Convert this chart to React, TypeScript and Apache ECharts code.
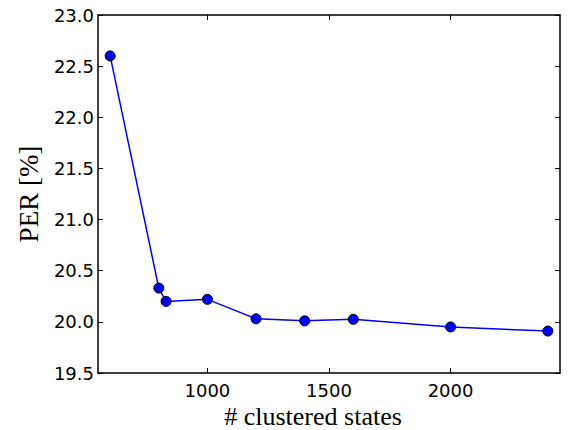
import React, { useEffect, useRef } from "react";
import * as echarts from "echarts";

const clusteredStates = [600, 800, 830, 1000, 1200, 1400, 1600, 2000, 2400];
const perValues = [22.6, 20.33, 20.2, 20.22, 20.03, 20.01, 20.025, 19.95, 19.91];
const xTicks = [1000, 1500, 2000];
const yTicks = [19.5, 20.0, 20.5, 21.0, 21.5, 22.0, 22.5, 23.0];

export default function App() {
  const ref = useRef<HTMLDivElement>(null);
  useEffect(() => {
    if (!ref.current) return;
    const chart = echarts.init(ref.current, null, { renderer: "svg" });
    const tickFont = { fontFamily: "DejaVu Sans", fontSize: 18, color: "#000" };
    const nameFont = { fontFamily: "Liberation Serif", fontSize: 27, color: "#000" };
    const line = { show: true, onZero: false, lineStyle: { color: "#000", width: 1.5 } };
    const tick = { show: true, inside: true, length: 5, lineStyle: { color: "#000", width: 1 } };
    chart.setOption({
      animation: false,
      grid: {
        left: 98,
        top: 15,
        right: 8,
        bottom: 57,
        containLabel: false,
        outerBoundsMode: "none",
      },
      xAxis: [
        {
          type: "value",
          min: 550,
          max: 2450,
          position: "bottom",
          name: "# clustered states",
          nameLocation: "middle",
          nameGap: 24,
          nameTextStyle: { ...nameFont, fontSize: 26, lineHeight: 26, padding: [0, 32, 0, 0] },
          axisLine: line,
          axisTick: { ...tick, customValues: xTicks },
          axisLabel: {
            ...tickFont,
            margin: 8,
            customValues: xTicks,
            formatter: (v: number) => String(v),
          },
          splitLine: { show: false },
        },
        {
          type: "value",
          min: 550,
          max: 2450,
          position: "top",
          axisLine: line,
          axisTick: { ...tick, customValues: xTicks },
          axisLabel: { show: false, customValues: xTicks },
          splitLine: { show: false },
        },
      ],
      yAxis: [
        {
          type: "value",
          min: 19.5,
          max: 23,
          position: "left",
          name: "PER [%]",
          nameLocation: "middle",
          nameGap: 56,
          nameRotate: 90,
          nameTextStyle: nameFont,
          axisLine: line,
          axisTick: { ...tick, customValues: yTicks },
          axisLabel: {
            ...tickFont,
            margin: 4,
            customValues: yTicks,
            formatter: (v: number) => v.toFixed(1),
          },
          splitLine: { show: false },
        },
        {
          type: "value",
          min: 19.5,
          max: 23,
          position: "right",
          axisLine: line,
          axisTick: { ...tick, customValues: yTicks },
          axisLabel: { show: false, customValues: yTicks },
          splitLine: { show: false },
        },
      ],
      series: [
        {
          type: "line",
          xAxisIndex: 0,
          yAxisIndex: 0,
          data: clusteredStates.map((x, i) => [x, perValues[i]]),
          symbol: "circle",
          symbolSize: 10,
          lineStyle: { color: "#0000ff", width: 1.5 },
          itemStyle: { color: "#0000ff", borderColor: "#000", borderWidth: 1 },
        },
      ],
    });
    return () => chart.dispose();
  }, []);
  return (
    <div
      ref={ref}
      style={{ position: "fixed", left: 0, top: 0, width: 568, height: 430, background: "#fff" }}
    />
  );
}
